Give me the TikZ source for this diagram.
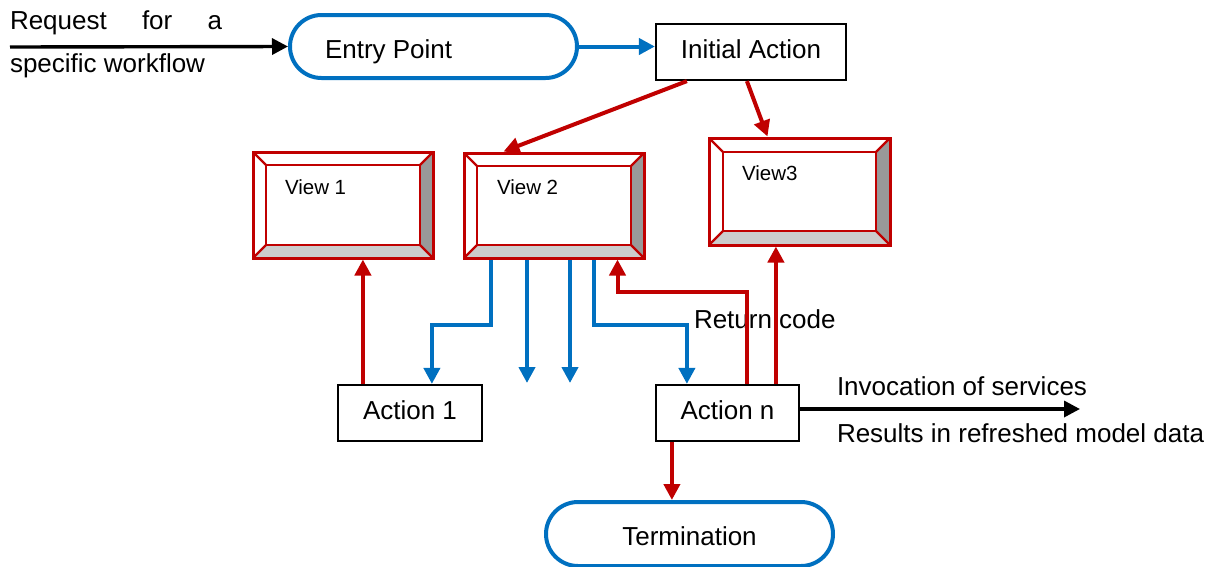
\documentclass[tikz,border=0pt]{standalone}
\usepackage{fontspec}
\setmainfont{Liberation Sans}
\usetikzlibrary{arrows.meta,calc,fit,shapes.misc}

\definecolor{flowblue}{HTML}{0070C0}
\definecolor{flowred}{HTML}{C00000}
\definecolor{bevdark}{HTML}{999999}
\definecolor{bevlight}{HTML}{CCCCCC}

\tikzset{
  big/.style={font=\fontsize{26}{30}\selectfont},
  small/.style={font=\fontsize{20.5}{24}\selectfont},
  txt/.style={inner sep=0pt, outer sep=0pt},
  terminal/.style={rounded rectangle, draw=flowblue, line width=4pt, fill=white,
    inner sep=0pt},
  actbox/.style={rectangle, draw=black, line width=2.2pt, fill=white, inner sep=0pt,
    big, text height=19pt, text depth=5.5pt},
  viewframe/.style={rectangle, draw=flowred, line width=3pt, inner sep=0pt},
  tip/.style={-{Triangle[length=16pt,width=16pt]}},
  bluelink/.style={tip, draw=flowblue, line width=4pt},
  redlink/.style={tip, draw=flowred, line width=4pt},
  blacklink/.style={tip, draw=black, line width=3.4pt},
}

% bevelled view frame: name, left, top, right, bottom, bevel width
\newcommand\bevelview[6]{%
  \fill[white] (#2,#3) rectangle (#4,#5);
  \fill[bevdark] (#4,#3) -- ({#4-#6},{#3+#6}) -- ({#4-#6},{#5-#6}) -- (#4,#5) -- cycle;
  \fill[bevlight] (#2,#5) -- ({#2+#6},{#5-#6}) -- ({#4-#6},{#5-#6}) -- (#4,#5) -- cycle;
  \draw[flowred, line width=2.4pt]
    (#2,#3) -- ({#2+#6},{#3+#6})
    (#4,#3) -- ({#4-#6},{#3+#6})
    (#2,#5) -- ({#2+#6},{#5-#6})
    (#4,#5) -- ({#4-#6},{#5-#6});
  \draw[flowred, line width=2.4pt] ({#2+#6},{#3+#6}) rectangle ({#4-#6},{#5-#6});
  \node[viewframe, fit={(#2,#3) (#4,#5)}] (#1) {};
}

\begin{document}
\begin{tikzpicture}[x=1pt, y=-1pt]
\useasboundingbox (0,0) rectangle (1219,566);

% start and end terminals
\node[terminal, minimum width=287pt, minimum height=63pt] (entry) at (433.5,46.5) {};
\node[txt, big, anchor=base west] (entrytxt) at (325,58) {Entry Point};
\node[terminal, minimum width=287pt, minimum height=64pt] (term) at (689.5,534) {};
\node[txt, big, anchor=base] (termtxt) at (689.5,545) {Termination};

% action boxes
\node[actbox, minimum width=190pt, minimum height=56pt] (init) at (751,52) {Initial Action};
\node[actbox, minimum width=144pt, minimum height=56pt] (a1) at (410,413) {Action 1};
\node[actbox, minimum width=143pt, minimum height=56pt] (an) at (727.5,413) {Action n};

% views
\bevelview{v1}{253}{152}{433}{258}{13}
\bevelview{v2}{464}{153}{644}{258}{13}
\bevelview{v3}{709}{138}{890}{245}{14}
\node[txt, small, anchor=base west] (v1txt) at (285,194) {View 1};
\node[txt, small, anchor=base west] (v2txt) at (497,194) {View 2};
\node[txt, small, anchor=base west] (v3txt) at (742,180) {View3};

% incoming request
\node[txt, big, anchor=base west] (reqtop) at (10,29) {\makebox[212pt][s]{Request for a}};
\node[txt, big, anchor=base west] (reqbot) at (10,72) {specific workflow};
\coordinate (reqstart) at (10,47);
\draw[blacklink] (reqstart) -- (entry.west);

% entry flow
\draw[bluelink] (entry.east) -- (entry.east -| init.west);
\draw[redlink] ($(init.south west)+(32,0)$) -- ($(v2.north west)+(41,0)$);
\draw[redlink] ($(init.south west)+(92,0)$) -- ($(v3.north west)+(60,0)$);

% view 2 dispatching to actions
\coordinate (f1) at (527,383);
\coordinate (f2) at (570,383);
\draw[bluelink] ($(v2.south west)+(28,0)$) -- ++(0,65) -| ($(a1.north west)+(95,0)$);
\draw[bluelink] (f1 |- v2.south) -- (f1);
\draw[bluelink] (f2 |- v2.south) -- (f2);
\draw[bluelink] ($(v2.south west)+(131,0)$) -- ++(0,65) -| ($(an.north west)+(32,0)$);

% results back to views
\node[txt, big, anchor=base west] (rettxt) at (694,328) {Return code};
\draw[redlink] ($(an.north west)+(92,0)$) -- ++(0,-92) -| ($(v2.south west)+(155,0)$);
\coordinate (r3) at ($(an.north west)+(121,0)$);
\draw[redlink] (r3) -- (r3 |- v3.south);
\coordinate (r1) at ($(a1.north west)+(26,0)$);
\draw[redlink] (r1) -- (r1 |- v1.south);
\coordinate (rt) at ($(an.south west)+(17,0)$);
\draw[redlink] (rt) -- (rt |- term.north);

% service invocation
\coordinate (outstart) at ($(an.east)+(0,-4)$);
\coordinate (outend) at (1080,409);
\draw[blacklink] (outstart) -- (outstart -| outend);
\node[txt, big, anchor=base west] (invtxt) at (837,395) {Invocation of services};
\node[txt, big, anchor=base west] (restxt) at (837,442) {Results in refreshed model data};
\end{tikzpicture}
\end{document}
